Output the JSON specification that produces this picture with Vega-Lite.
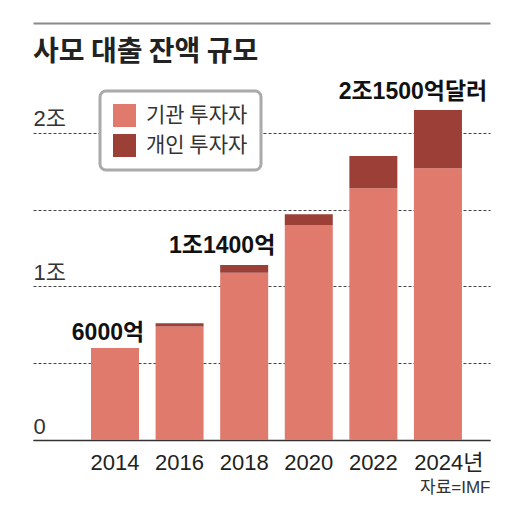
{
  "$schema": "https://vega.github.io/schema/vega-lite/v6.json",
  "width": 457,
  "height": 417,
  "autosize": {"type": "none"},
  "padding": {"left": 33, "top": 23, "right": 24, "bottom": 82},
  "background": "white",
  "config": {
    "view": {"stroke": null},
    "font": "Liberation Sans, Noto Sans CJK KR",
    "legend": {"strokeWidth": 3}
  },
  "title": {
    "text": "사모 대출 잔액 규모",
    "anchor": "start",
    "font": "Noto Sans CJK KR",
    "fontSize": 28,
    "fontWeight": "bold",
    "color": "#222222",
    "baseline": "alphabetic",
    "offset": -66,
    "frame": "group"
  },
  "datasets": {
    "bars": [
      {"year": "2014", "type": "기관 투자자", "value": 0.60},
      {"year": "2014", "type": "개인 투자자", "value": 0.0},
      {"year": "2016", "type": "기관 투자자", "value": 0.74},
      {"year": "2016", "type": "개인 투자자", "value": 0.02},
      {"year": "2018", "type": "기관 투자자", "value": 1.09},
      {"year": "2018", "type": "개인 투자자", "value": 0.05},
      {"year": "2020", "type": "기관 투자자", "value": 1.40},
      {"year": "2020", "type": "개인 투자자", "value": 0.07},
      {"year": "2022", "type": "기관 투자자", "value": 1.64},
      {"year": "2022", "type": "개인 투자자", "value": 0.21},
      {"year": "2024", "type": "기관 투자자", "value": 1.77},
      {"year": "2024", "type": "개인 투자자", "value": 0.38}
    ]
  },
  "layer": [
    {
      "data": {"name": "bars"},
      "mark": {"type": "bar"},
      "encoding": {
        "x": {
          "field": "year",
          "type": "ordinal",
          "title": "자료=IMF",
          "scale": {"paddingInner": 0.257, "paddingOuter": 0.666, "align": 0.674},
          "axis": {
            "title": "자료=IMF",
            "titleAnchor": "end",
            "titleAlign": "right",
            "titleFontSize": 17,
            "titleFontWeight": "normal",
            "titleColor": "#333333",
            "titlePadding": 6,
            "labelAngle": 0,
            "labelFontSize": 22,
            "labelColor": "#222222",
            "labelPadding": 12,
            "ticks": false,
            "tickSize": 0,
            "domainColor": "#333333",
            "domainWidth": 1.5,
            "grid": false,
            "labelExpr": "datum.value == '2024' ? '2024년' : datum.label",
            "labelOffset": {"condition": {"test": "datum.value == '2024'", "value": 11}, "value": 0}
          }
        },
        "y": {
          "field": "value",
          "type": "quantitative",
          "stack": "zero",
          "title": null,
          "scale": {"domain": [0, 2.7166], "nice": false},
          "axis": {
            "title": null,
            "values": [0, 0.5, 1, 1.5, 2, 2.7166],
            "labelExpr": "datum.value == 0 ? '0' : datum.value == 1 ? '1조' : datum.value == 2 ? '2조' : ''",
            "labelAlign": "left",
            "labelBaseline": "alphabetic",
            "labelPadding": 0,
            "labelOffset": -7,
            "labelFontSize": 22,
            "labelColor": "#333333",
            "ticks": false,
            "tickSize": 0,
            "domain": false,
            "grid": true,
            "gridColor": {"condition": {"test": "datum.value > 2.5", "value": "#8a8a8a"}, "value": "#444444"},
            "gridDash": {"condition": {"test": "datum.value > 2.5 || datum.value == 0", "value": []}, "value": [3, 2]},
            "gridWidth": {"condition": {"test": "datum.value > 2.5", "value": 2}, "value": 1}
          }
        },
        "color": {
          "field": "type",
          "type": "nominal",
          "scale": {"domain": ["기관 투자자", "개인 투자자"], "range": ["#e07a6c", "#9b3f37"]},
          "legend": {
            "title": null,
            "orient": "none",
            "legendX": 67,
            "legendY": 68,
            "direction": "vertical",
            "symbolType": "square",
            "symbolSize": 529,
            "symbolStrokeWidth": 0,
            "labelFontSize": 21,
            "labelFont": "Noto Sans CJK KR",
            "labelColor": "#333333",
            "labelOffset": 10,
            "rowPadding": 7,
            "padding": 13,
            "fillColor": "white",
            "strokeColor": "#aaaaaa",
            "cornerRadius": 6
          }
        },
        "order": {"field": "type", "sort": "descending"}
      }
    },
    {
      "data": {"values": [{"year": "2014", "total": 0.60, "label": "6000억"}]},
      "mark": {"type": "text", "fontSize": 23, "fontWeight": "bold", "color": "#111111", "baseline": "alphabetic", "align": "center", "dx": -7, "dy": -8},
      "encoding": {
        "x": {"field": "year", "type": "ordinal", "title": "자료=IMF"},
        "y": {"field": "total", "type": "quantitative", "title": null},
        "text": {"field": "label"}
      }
    },
    {
      "data": {"values": [{"year": "2018", "total": 1.14, "label": "1조1400억"}]},
      "mark": {"type": "text", "fontSize": 23, "fontWeight": "bold", "color": "#111111", "baseline": "alphabetic", "align": "center", "dx": -22, "dy": -12},
      "encoding": {
        "x": {"field": "year", "type": "ordinal", "title": "자료=IMF"},
        "y": {"field": "total", "type": "quantitative", "title": null},
        "text": {"field": "label"}
      }
    },
    {
      "data": {"values": [{"year": "2024", "total": 2.15, "label": "2조1500억달러"}]},
      "mark": {"type": "text", "fontSize": 23, "fontWeight": "bold", "color": "#111111", "baseline": "alphabetic", "align": "center", "dx": -25, "dy": -11},
      "encoding": {
        "x": {"field": "year", "type": "ordinal", "title": "자료=IMF"},
        "y": {"field": "total", "type": "quantitative", "title": null},
        "text": {"field": "label"}
      }
    }
  ]
}
